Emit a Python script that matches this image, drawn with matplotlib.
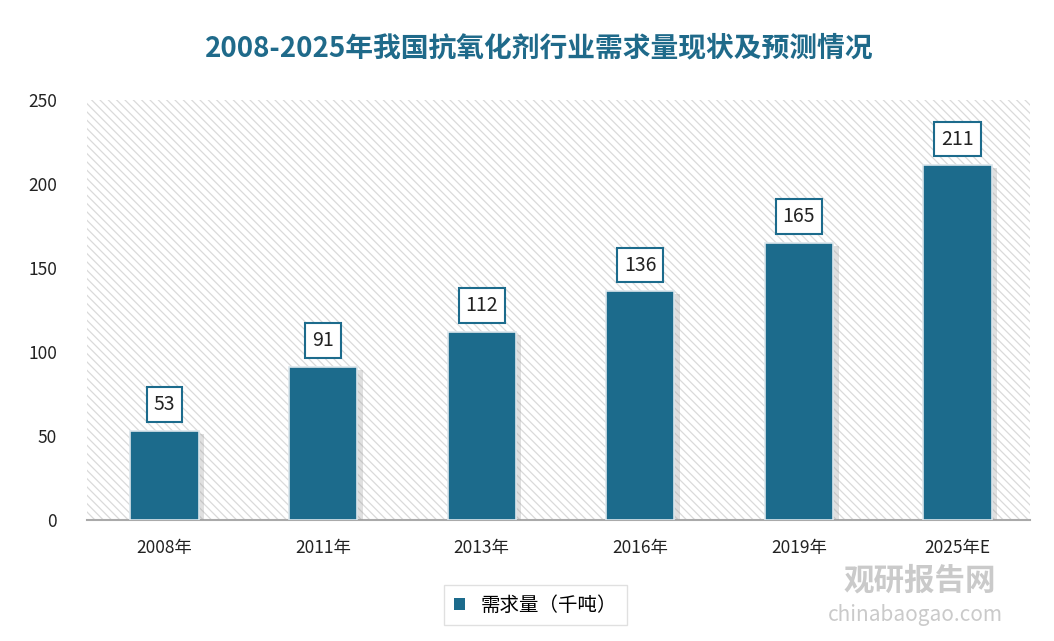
import matplotlib.pyplot as plt
import matplotlib.patheffects as pe
from matplotlib.patches import Patch

plt.rcParams['font.family'] = ['Noto Sans CJK SC', 'DejaVu Sans']
plt.rcParams['hatch.color'] = '#dadada'
plt.rcParams['hatch.linewidth'] = 0.9

years = ["2008年", "2011年", "2013年", "2016年", "2019年", "2025年E"]
demand = [53, 91, 112, 136, 165, 211]

bar_color = "#1c6b8c"
title_color = "#1f6a8a"

fig = plt.figure(figsize=(10.54, 6.41), dpi=100)
ax = fig.add_axes([0.083, 0.189, 0.894, 0.655])

# hatched background
ax.add_patch(plt.Rectangle((0, 0), 1, 1, transform=ax.transAxes, facecolor="white",
                           hatch="\\\\\\\\", edgecolor="#dadada", linewidth=0, zorder=0))

x = range(len(years))
bars = ax.bar(x, demand, width=0.43, color=bar_color, edgecolor="#dbe6ec",
              linewidth=1.2, zorder=3,
              path_effects=[pe.SimplePatchShadow(offset=(4, -2), shadow_rgbFace="#999999", alpha=0.3),
                            pe.Normal()])

for i, v in enumerate(demand):
    ax.annotate(str(v), (i, v), xytext=(0, 19), textcoords="offset points",
                ha="center", va="center", fontsize=14, color="#222222", zorder=5,
                bbox=dict(boxstyle="square,pad=0.35", facecolor="white",
                          edgecolor=bar_color, linewidth=1.5))

ax.set_xlim(-0.485, 5.455)
ax.set_ylim(0, 250)
ax.set_yticks([0, 50, 100, 150, 200, 250])
ax.set_xticks(list(x))
ax.set_xticklabels(years)
ax.tick_params(axis="both", length=0, labelsize=12.5, colors="#222222")
ax.tick_params(axis="x", pad=14)
ax.tick_params(axis="y", pad=22)
for s in ["top", "right", "left"]:
    ax.spines[s].set_visible(False)
ax.spines["bottom"].set_color("#aaaaaa")
ax.spines["bottom"].set_linewidth(1.5)

fig.text(0.512, 0.925, "2008-2025年我国抗氧化剂行业需求量现状及预测情况", ha="center", va="center",
         fontsize=20, fontweight="bold", color=title_color)

handle = Patch(facecolor=bar_color, edgecolor="none")
leg = fig.legend([handle], ["需求量（千吨）"], loc="center", bbox_to_anchor=(0.508, 0.056),
                 fontsize=14, frameon=True, handlelength=0.6, handleheight=0.6,
                 borderpad=0.5, fancybox=False)
leg.get_frame().set_edgecolor("#d9d9d9")

# watermark
fig.text(0.80, 0.095, "观研报告网", fontsize=22, fontweight="bold", color="#bdbdbd",
         alpha=0.8, va="center")
fig.text(0.785, 0.04, "chinabaogao.com", fontsize=15, color="#bdbdbd", alpha=0.8, va="center")

fig.savefig("out.png", dpi=100)
